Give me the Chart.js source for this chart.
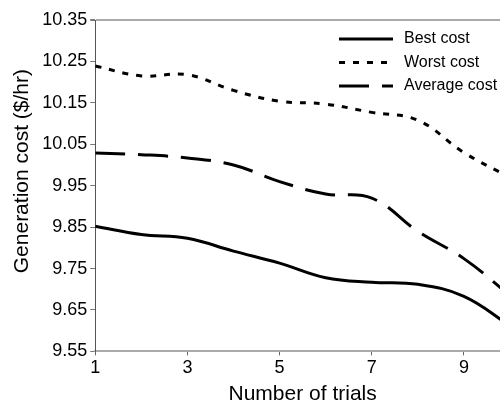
<!DOCTYPE html>
<html>
<head>
<meta charset="utf-8">
<script src="https://cdn.jsdelivr.net/npm/chart.js@4"></script>
<style>
html, body { margin: 0; padding: 0; background: #fff; overflow: hidden; width: 500px; height: 405px; }
#wrap { width: 512px; height: 405px; }
</style>
</head>
<body>
<div id="wrap"><canvas id="myChart" width="512" height="405"></canvas></div>
<script>
// values
const trials = [1, 2, 3, 4, 5, 6, 7, 8, 9, 10];
const bestCost = [9.852, 9.832, 9.823, 9.792, 9.763, 9.728, 9.717, 9.712, 9.683, 9.612];
const worstCost = [10.239, 10.215, 10.218, 10.18, 10.154, 10.147, 10.127, 10.108, 10.03, 9.97];
const averageCost = [10.029, 10.025, 10.017, 10.0, 9.96, 9.93, 9.92, 9.84, 9.774, 9.685];
const xTicks = [1, 3, 5, 7, 9];
const yTicks = [9.55, 9.65, 9.75, 9.85, 9.95, 10.05, 10.15, 10.25, 10.35];

const FONT = "'Liberation Sans', Arial, sans-serif";

function pts(ys) {
  return trials.map(function (t, i) { return { x: t, y: ys[i] }; });
}

// legend drawn inside the plot, top right
const innerLegend = {
  id: 'innerLegend',
  afterDraw: function (chart) {
    const ctx = chart.ctx;
    ctx.save();
    ctx.font = '16px ' + FONT;
    ctx.textBaseline = 'middle';
    ctx.fillStyle = '#000';
    chart.data.datasets.forEach(function (ds, i) {
      var y = 39 + i * 23.5;
      ctx.strokeStyle = '#000';
      ctx.lineWidth = 3;
      ctx.setLineDash(ds.borderDash || []);
      ctx.beginPath();
      ctx.moveTo(339, y);
      ctx.lineTo(393, y);
      ctx.stroke();
      ctx.setLineDash([]);
      ctx.fillText(ds.label, 404, y);
    });
    ctx.restore();
  }
};

new Chart("myChart", {
  type: "line",
  data: {
    datasets: [{
      label: 'Best cost',
      data: pts(bestCost),
      borderColor: "#000",
      borderWidth: 3,
      borderDash: [],
    },
    {
      label: 'Worst cost',
      data: pts(worstCost),
      borderColor: "#000",
      borderWidth: 3,
      borderDash: [6, 8],
    },
    {
      label: 'Average cost',
      data: pts(averageCost),
      borderColor: "#000",
      borderWidth: 3,
      borderDash: [30, 13],
    }]
  },
  options: {
    responsive: false,
    animation: false,
    layout: { padding: { left: 10, right: 2, top: 20, bottom: 0 } },
    elements: {
      point: { radius: 0 },
      line: { tension: 0.4, fill: false }
    },
    scales: {
      x: {
        type: 'linear',
        min: 1,
        max: 10,
        afterBuildTicks: function (axis) {
          axis.ticks = xTicks.map(function (v) { return { value: v }; });
        },
        border: { color: '#aaa', width: 2 },
        grid: { drawOnChartArea: false, tickLength: 4, tickColor: '#666' },
        ticks: { color: '#000', font: { size: 18, family: FONT }, padding: 2, maxRotation: 0 },
        title: { display: true, text: 'Number of trials', color: '#000', font: { size: 21, family: FONT, lineHeight: 1 }, padding: { top: 3, bottom: 0 } }
      },
      y: {
        type: 'linear',
        min: 9.55,
        max: 10.35,
        afterBuildTicks: function (axis) {
          axis.ticks = yTicks.map(function (v) { return { value: v }; });
        },
        border: { color: '#555', width: 1 },
        grid: {
          drawOnChartArea: true,
          color: function (c) { return (c.tick && c.tick.value === 10.35) ? '#aaa' : 'rgba(0,0,0,0)'; },
          lineWidth: function (c) { return (c.tick && c.tick.value === 10.35) ? 2 : 1; },
          tickLength: 5,
          tickColor: '#777'
        },
        ticks: {
          color: '#000',
          font: { size: 18, family: FONT },
          padding: 3,
          callback: function (v) { return v.toFixed(2); }
        },
        // leading spaces push the visible text a bit above the axis middle, as in the original
        title: { display: true, text: '\u00a0\u00a0\u00a0\u00a0\u00a0Generation cost ($/hr)', color: '#000', font: { size: 21, family: FONT }, padding: { top: 0, bottom: 4 } }
      }
    },
    plugins: {
      legend: { display: false },
      tooltip: { enabled: false }
    }
  },
  plugins: [innerLegend]
});
</script>
</body>
</html>
